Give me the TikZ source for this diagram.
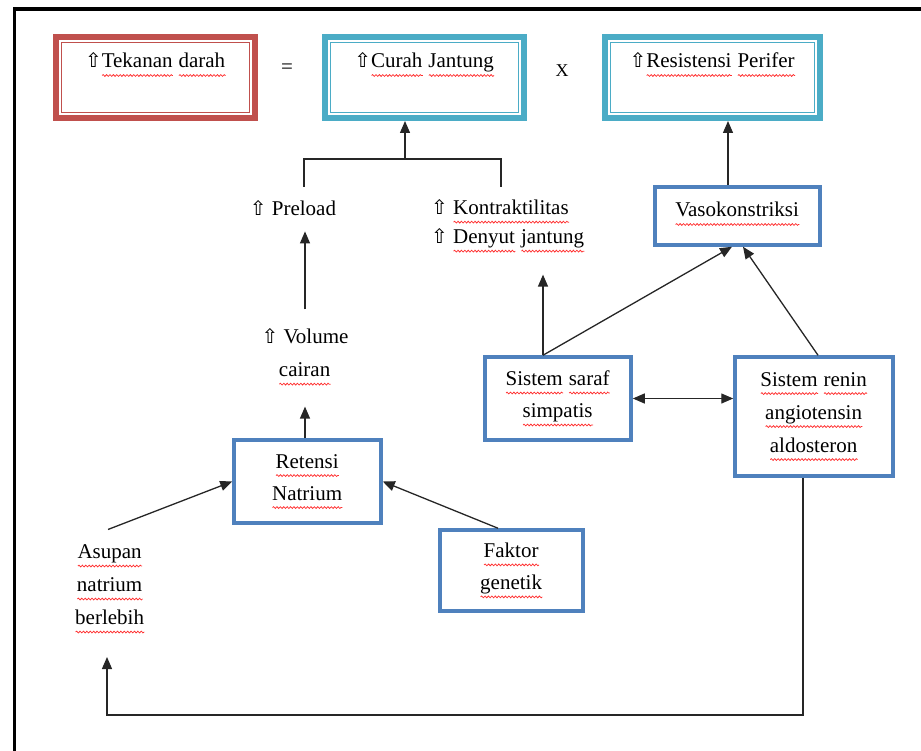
\documentclass[tikz,border=0pt]{standalone}
\usepackage{fontspec}
\setmainfont{Liberation Serif}
\newfontfamily\arrowfont{DejaVu Sans}[Scale=0.95]
\usetikzlibrary{positioning, arrows.meta, decorations.pathmorphing}
\definecolor{boxred}{HTML}{C0504D}
\definecolor{boxaqua}{HTML}{4BACC6}
\definecolor{boxblue}{HTML}{4F81BD}
\definecolor{wavered}{HTML}{FF3030}
% red wavy spell-check underline
\newlength\sqw
\newcommand\sq[1]{\settowidth\sqw{#1}\rlap{#1}\tikz[baseline=0pt]{%
  \path (0pt,0pt) (\sqw,0pt);
  \draw[wavered, line width=0.75pt, decorate,
        decoration={snake, amplitude=0.9pt, segment length=3.4pt}]
    (0pt,-7.5pt) -- (\sqw,-7.5pt);}}
\newcommand\naik{{\arrowfont ⇧}}

\tikzset{
  topbox/.style={draw=#1, line width=6pt, inner sep=0pt, outer sep=3pt, align=center,
                 minimum width=199pt, text height=31pt, text depth=50pt},
  midbox/.style={draw=boxblue, line width=3.5pt, inner sep=0pt, align=center},
  plain/.style={align=center, inner sep=2pt},
  conn/.style={draw=black!85, line width=1.3pt},
}

\begin{document}
\begin{tikzpicture}[x=1pt, y=-1pt, font=\fontsize{21}{32}\selectfont,
                    >={Triangle[length=12pt, width=10pt]}]
  \useasboundingbox (0,0) rectangle (921,751);
  % frame
  \draw[line width=3.6pt] (14.3,751) -- (14.3,9.2) -- (921,9.2);

  % top row: tekanan darah = curah jantung x resistensi perifer
  \node[topbox=boxred] (td) at (155.5,77.5) {\naik\sq{Tekanan} \sq{darah}};
  \node[plain] (eq) at (287,69) {=};
  \node[topbox=boxaqua] (cj) at (424.5,77.5) {\naik\sq{Curah} \sq{Jantung}};
  \node[plain, anchor=base, font=\fontsize{18}{20}\selectfont] (kali) at (562,77) {X};
  \node[topbox=boxaqua, minimum width=215pt] (rp) at (712.5,77.5) {\naik\sq{Resistensi} \sq{Perifer}};
  \foreach \n/\c in {td/boxred, cj/boxaqua, rp/boxaqua}
    \draw[\c, line width=1.3pt] ([shift={(8.8,8.8)}]\n.north west) rectangle ([shift={(-8.8,-8.8)}]\n.south east);

  % middle
  \node[plain, anchor=base] (pre) at (293,216) {\naik{} Preload};
  \node[align=left, inner sep=2pt, font=\fontsize{21}{29}\selectfont] (kon) at (508,226)
    {\naik{} \sq{Kontraktilitas}\\\naik{} \sq{Denyut} \sq{jantung}};
  \node[midbox, minimum width=165pt, minimum height=58pt, text height=30pt, text depth=28pt]
    (vk) at (737.5,216) {\sq{Vasokonstriksi}};
  \node[plain, font=\fontsize{21}{33}\selectfont] (vol) at (305,357) {\naik{} Volume\\\sq{cairan}};
  \node[midbox, minimum width=146pt, minimum height=83pt] (saraf) at (558,398.5)
    {\sq{Sistem} \sq{saraf}\\\sq{simpatis}};
  \node[midbox, minimum width=158pt, minimum height=119pt, font=\fontsize{21}{33}\selectfont]
    (renin) at (814,416.5) {\sq{Sistem} \sq{renin}\\\sq{angiotensin}\\\sq{aldosteron}};

  % bottom
  \node[midbox, minimum width=147pt, minimum height=83pt] (ret) at (307.5,481.5)
    {\sq{Retensi}\\\sq{Natrium}};
  \node[midbox, minimum width=143pt, minimum height=81pt] (fak) at (511.5,570.5)
    {\sq{Faktor}\\\sq{genetik}};
  \node[plain, font=\fontsize{21}{33}\selectfont] (asu) at (110,589)
    {\sq{Asupan}\\\sq{natrium}\\\sq{berlebih}};

  % connectors
  \coordinate (brkl) at (304,187);
  \coordinate (brk) at (405,159);
  \coordinate (brkr) at (501,187);
  \draw[conn] (brkl) |- (brk) -| (brkr);
  \draw[conn, ->] (brk) -- (brk |- cj.south);
  \draw[conn, ->] ([xshift=-9.5pt]vk.north) -- ([xshift=-9.5pt]vk.north |- rp.south);
  \draw[conn, ->, shorten <=17pt, shorten >=13pt] (vol.north) -- (vol.north |- pre.south);
  \draw[conn, ->, shorten >=19pt] (ret.north -| vol.south) -- (vol.south);
  \draw[conn, ->, shorten >=20pt] ([xshift=-15pt]saraf.north) -- ([xshift=-15pt]saraf.north |- kon.south);
  \draw[conn, ->] ([xshift=-15pt]saraf.north) -- ([xshift=-5.5pt]vk.south);
  \draw[conn, ->] ([xshift=4pt]renin.north) -- ([xshift=5.5pt]vk.south);
  \draw[conn, <->] (saraf.east) -- (saraf.east -| renin.west);
  \draw[conn, ->] ([shift={(-2,-13)}]asu.north) -- (ret.west);
  \draw[conn, ->] ([xshift=-13.5pt]fak.north) -- (ret.east);
  \coordinate (fbl) at (107,715);
  \coordinate (fbtip) at (107,657);
  \draw[conn, ->] ([xshift=-11pt]renin.south) |- (fbl) -- (fbtip);
\end{tikzpicture}
\end{document}
